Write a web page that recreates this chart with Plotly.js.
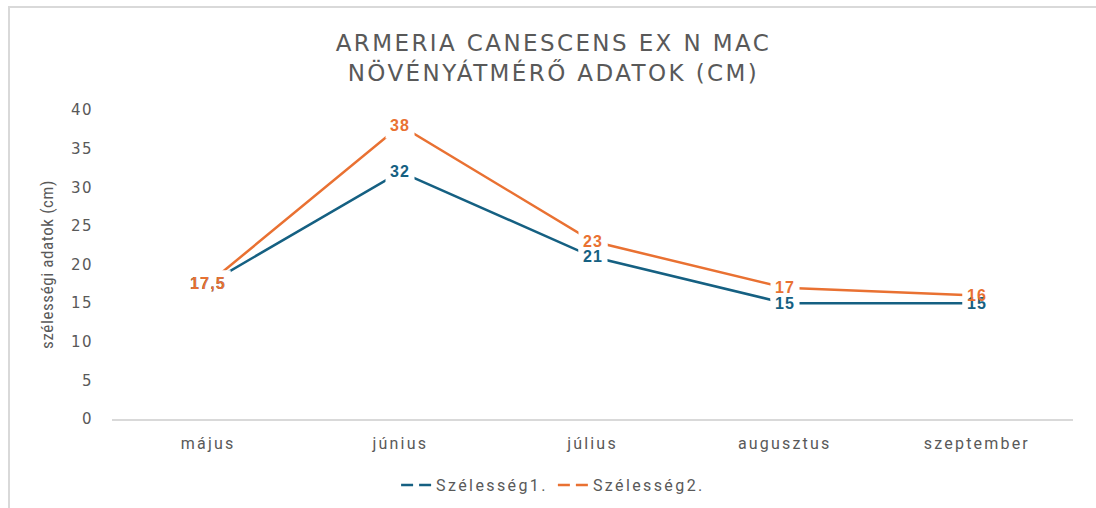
<!DOCTYPE html>
<html>
<head>
<meta charset="utf-8">
<script src="https://cdn.plot.ly/plotly-3.0.1.min.js"></script>
<style>
  html, body { margin: 0; padding: 0; background: #ffffff; }
  #wrap { position: relative; width: 1096px; height: 508px; overflow: hidden; }
  #chart { width: 1096px; height: 508px; }
  #frame { position: absolute; left: 8px; top: 6px; width: 1200px; height: 600px;
           border-left: 2px solid #d9d9d9; border-top: 2px solid #d9d9d9; pointer-events: none; }
  .gtitle { letter-spacing: 2.4px; }
  .xtick text { letter-spacing: 2.2px; }
  .ytick text { letter-spacing: 1.5px; }
  .ytitle { letter-spacing: 0.6px; }
  .legendtext { letter-spacing: 2.4px; }
  .annotation-text { letter-spacing: 1.2px; }
</style>
</head>
<body>
<div id="wrap">
  <div id="chart"></div>
  <div id="frame"></div>
</div>
<script>
const categories = ["május", "június", "július", "augusztus", "szeptember"];
const series1Name = "Szélesség1.";
const series2Name = "Szélesség2.";
const series1 = [17.5, 32, 21, 15, 15];
const series2 = [17.5, 38, 23, 17, 16];
const yTicks = [0, 5, 10, 15, 20, 25, 30, 35, 40];

const blue = "#156082";
const orange = "#E97132";
const grey = "#595959";

function fmt(v) { return String(v).replace(".", ","); }

const traces = [
  { x: categories, y: series1, type: "scatter", mode: "lines", line: { color: blue, width: 2.5 }, showlegend: false, hoverinfo: "skip" },
  { x: categories, y: series2, type: "scatter", mode: "lines", line: { color: orange, width: 2.5 }, showlegend: false, hoverinfo: "skip" },
  { x: [null], y: [null], type: "scatter", mode: "lines", name: series1Name, line: { color: blue, width: 2.5, dash: "12px,6px" } },
  { x: [null], y: [null], type: "scatter", mode: "lines", name: series2Name, line: { color: orange, width: 2.5, dash: "12px,6px" } }
];

const labelFont = "Liberation Sans, Arial, sans-serif";
const masks = [];
const labels = [];
function addLabels(vals, color) {
  vals.forEach((v, i) => {
    masks.push({
      x: categories[i], y: v, xref: "x", yref: "y", text: "<b>" + fmt(v) + "</b>",
      showarrow: false, bgcolor: "#ffffff", borderpad: 4,
      font: { family: labelFont, size: 16, color: "rgba(255,255,255,0)" }
    });
    labels.push({
      x: categories[i], y: v, xref: "x", yref: "y", text: "<b>" + fmt(v) + "</b>",
      showarrow: false, borderpad: 4,
      font: { family: labelFont, size: 16, color: color }
    });
  });
}
addLabels(series1, blue);
addLabels(series2, orange);

const excelFont = "Roboto, sans-serif";

const layout = {
  width: 1096, height: 508,
  margin: { l: 112, r: 23, t: 110, b: 89, autoexpand: false },
  paper_bgcolor: "#ffffff", plot_bgcolor: "#ffffff",
  title: {
    text: "ARMERIA CANESCENS EX N MAC<br>NÖVÉNYÁTMÉRŐ ADATOK (CM)",
    font: { family: "DejaVu Sans, sans-serif", size: 23, color: grey },
    x: 0.505, xanchor: "center", y: 0.9, yanchor: "middle"
  },
  xaxis: {
    type: "category", range: [-0.5, 4.5],
    showgrid: false, zeroline: false, showline: true, linecolor: "#d9d9d9", linewidth: 1.5,
    ticks: "", ticklabelstandoff: 9,
    tickfont: { family: excelFont, size: 16, color: grey }
  },
  yaxis: {
    range: [0, 40], tickvals: yTicks, ticktext: yTicks.map(String),
    showgrid: false, zeroline: false, showline: false, ticks: "", ticklabelstandoff: 18,
    tickfont: { family: "DejaVu Sans, sans-serif", size: 15, color: grey },
    title: { text: "szélességi adatok (cm)", standoff: 12,
             font: { family: "Liberation Sans Narrow, Roboto Condensed, Roboto, sans-serif", size: 17, color: grey } }
  },
  showlegend: true,
  legend: {
    orientation: "h", x: 0.459, xanchor: "center", y: -0.214, yanchor: "middle",
    font: { family: excelFont, size: 16, color: grey }
  },
  annotations: masks.concat(labels)
};

Plotly.newPlot("chart", traces, layout, { displayModeBar: false, staticPlot: true });
</script>
</body>
</html>
